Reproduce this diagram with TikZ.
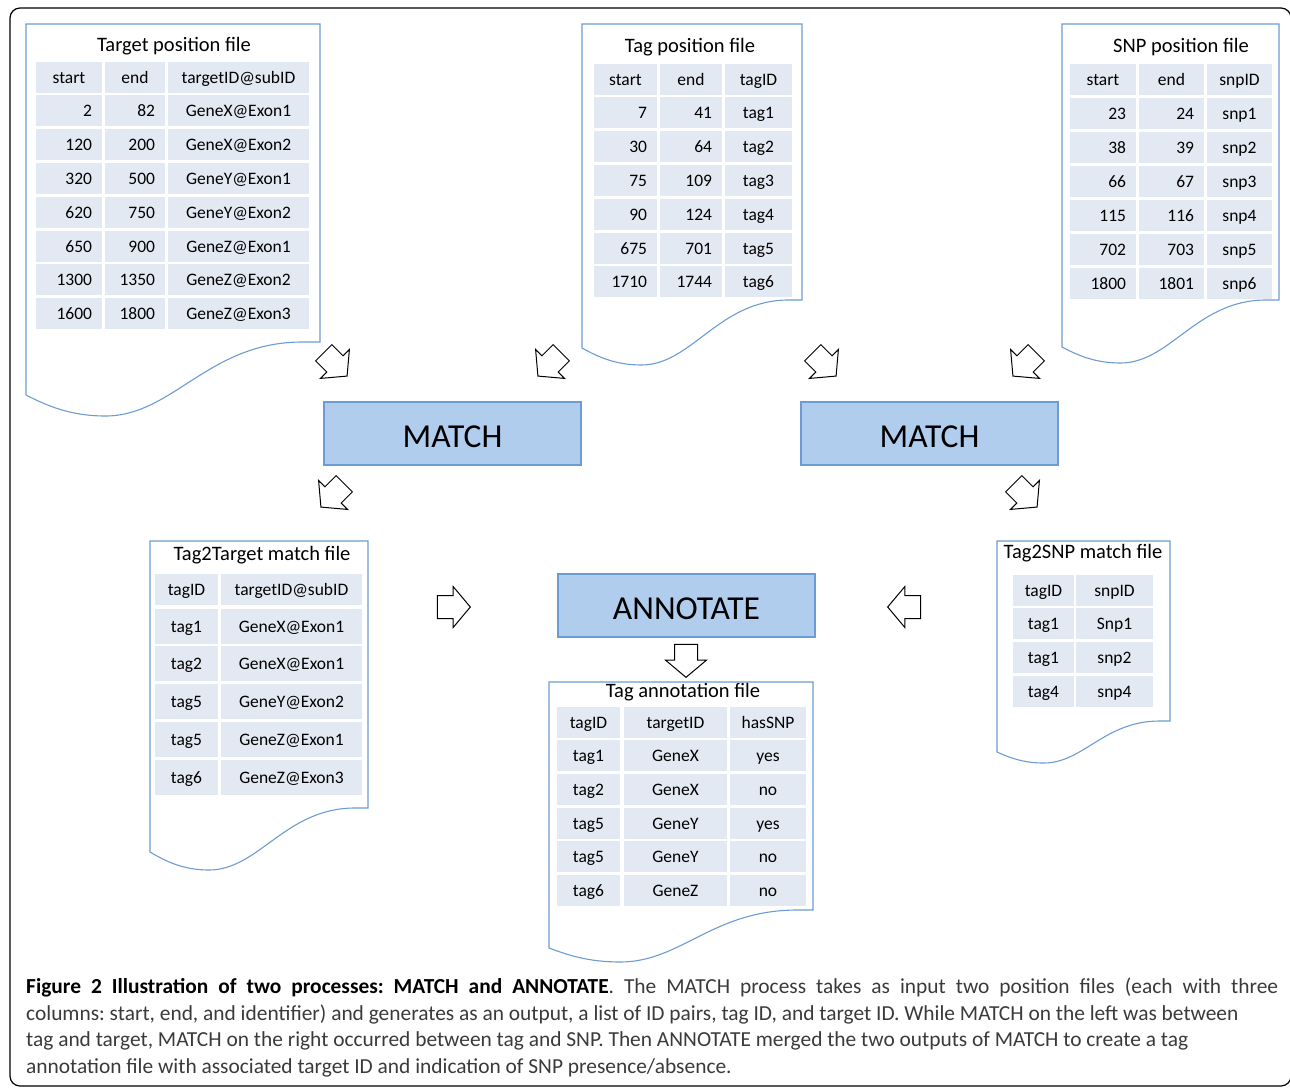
\documentclass[tikz,border=0pt]{standalone}
\usepackage{fontspec}
\setmainfont{Carlito}
\usetikzlibrary{shapes.arrows,positioning}

\definecolor{docline}{HTML}{6D9BD3}
\definecolor{cellfill}{HTML}{E3E9F3}
\definecolor{procfill}{HTML}{B0CDEE}
\definecolor{procline}{HTML}{6D9BD3}
\definecolor{captext}{HTML}{3A3A3A}

\tikzset{
  docborder/.style={draw=docline, line width=1.1pt},
  doctitle/.style={font=\fontsize{20.5}{24}\selectfont, inner sep=0pt},
  cell/.style={fill=cellfill, inner sep=0pt, minimum height=31pt, text height=15pt, text depth=3pt, font=\fontsize{17.5}{20}\selectfont},
  numcell/.style={cell, text width=#1, align=right, inner xsep=10pt},
  process/.style={draw=procline, fill=procfill, line width=1.2pt, minimum width=257pt, minimum height=63pt, text height=28pt, text depth=0pt, font=\fontsize{33.5}{40}\selectfont},
  blockarrow/.style={single arrow, draw=black, fill=white, line width=1pt, inner xsep=0pt, inner ysep=11pt, single arrow head extend=9pt, single arrow tip angle=100, single arrow head indent=0pt, minimum height=33pt},
}

% document outline: x1, x2, top, right bottom, left bottom, lowest point of the wave
\newcommand{\docshape}[6]{%
  \draw[docborder] (#1,#3) -- (#2,#3) -- (#2,#4) -- ({#1+0.94*(#2-#1)},#4)
    .. controls ({#1+0.62*(#2-#1)},#4) and ({#1+0.5*(#2-#1)},#6) .. ({#1+0.27*(#2-#1)},#6)
    .. controls ({#1+0.15*(#2-#1)},#6) and ({#1+0.07*(#2-#1)},{#5+0.5*(#6-#5)}) .. (#1,#5) -- cycle;}

\begin{document}
\begin{tikzpicture}[x=1pt,y=-1pt]
  \useasboundingbox (0,0) rectangle (1290,1087);
  \draw[line width=1.2pt, rounded corners=10pt] (10,8) rectangle (1291,1086);

  % documents
  \docshape{26}{320}{24}{342}{395}{416}
  \docshape{582}{802}{24}{300}{348}{365}
  \docshape{1062}{1279}{24}{300}{347}{363}
  \docshape{150}{368}{541}{808}{852}{870}
  \docshape{997}{1170}{541}{721}{752}{763}
  \docshape{549}{813}{682}{910}{948}{962}

  % target position file
  \node[doctitle] (tgt-title) at (174,46) {Target position file};
  \node[cell, minimum width=66pt] (tgt-h1) at (69,77) {start};
  \node[cell, minimum width=60pt] (tgt-h2) at (135,77) {end};
  \node[cell, minimum width=141pt] (tgt-h3) at (238.5,77) {targetID@subID};
  \foreach \s/\e/\id [count=\i] in {2/82/GeneX@Exon1, 120/200/GeneX@Exon2, 320/500/GeneY@Exon1,
      620/750/GeneY@Exon2, 650/900/GeneZ@Exon1, 1300/1350/GeneZ@Exon2, 1600/1800/GeneZ@Exon3} {
    \node[numcell=46pt] (tgt-\i-1) at (69,{77+33.8*\i}) {\s};
    \node[numcell=40pt] (tgt-\i-2) at (135,{77+33.8*\i}) {\e};
    \node[cell, minimum width=141pt] (tgt-\i-3) at (238.5,{77+33.8*\i}) {\id};
  }

  % tag position file
  \node[doctitle] (tag-title) at (690,47) {Tag position file};
  \node[cell, minimum width=63pt] (tag-h1) at (625.5,79) {start};
  \node[cell, minimum width=62pt] (tag-h2) at (691,79) {end};
  \node[cell, minimum width=67pt] (tag-h3) at (758.5,79) {tagID};
  \foreach \s/\e/\id [count=\i] in {7/41/tag1, 30/64/tag2, 75/109/tag3, 90/124/tag4, 675/701/tag5, 1710/1744/tag6} {
    \node[numcell=43pt] (tag-\i-1) at (625.5,{79+33.8*\i}) {\s};
    \node[numcell=42pt] (tag-\i-2) at (691,{79+33.8*\i}) {\e};
    \node[cell, minimum width=67pt] (tag-\i-3) at (758.5,{79+33.8*\i}) {\id};
  }

  % snp position file
  \node[doctitle] (snp-title) at (1181,47) {SNP position file};
  \node[cell, minimum width=66pt] (snp-h1) at (1103,79) {start};
  \node[cell, minimum width=65pt] (snp-h2) at (1171.5,79) {end};
  \node[cell, minimum width=65pt] (snp-h3) at (1239.5,79) {snpID};
  \foreach \s/\e/\id [count=\i] in {23/24/snp1, 38/39/snp2, 66/67/snp3, 115/116/snp4, 702/703/snp5, 1800/1801/snp6} {
    \node[numcell=46pt] (snp-\i-1) at (1103,{79+34.1*\i}) {\s};
    \node[numcell=45pt] (snp-\i-2) at (1171.5,{79+34.1*\i}) {\e};
    \node[cell, minimum width=65pt] (snp-\i-3) at (1239.5,{79+34.1*\i}) {\id};
  }

  % processes
  \node[process] (match1) at (452.5,433.5) {MATCH};
  \node[process] (match2) at (929.5,433.5) {MATCH};
  \node[process] (annot) at (686.5,605.5) {ANNOTATE};

  % tag2target match file
  \node[doctitle] (t2t-title) at (262,555) {Tag2Target match file};
  \node[cell, minimum width=63pt] (t2t-h1) at (186.5,589) {tagID};
  \node[cell, minimum width=141pt] (t2t-h2) at (291.5,589) {targetID@subID};
  \foreach \t/\id [count=\i] in {tag1/GeneX@Exon1, tag2/GeneX@Exon1, tag5/GeneY@Exon2, tag5/GeneZ@Exon1, tag6/GeneZ@Exon3} {
    \node[cell, minimum height=35pt, minimum width=63pt] (t2t-\i-1) at (186.5,{588.2+37.8*\i}) {\t};
    \node[cell, minimum height=35pt, minimum width=141pt] (t2t-\i-2) at (291.5,{588.2+37.8*\i}) {\id};
  }

  % tag2snp match file
  \node[doctitle] (t2s-title) at (1083,553) {Tag2SNP match file};
  \node[cell, minimum width=61pt] (t2s-h1) at (1043.5,590) {tagID};
  \node[cell, minimum width=77pt] (t2s-h2) at (1114.5,590) {snpID};
  \foreach \t/\id [count=\i] in {tag1/Snp1, tag1/snp2, tag4/snp4} {
    \node[cell, minimum width=61pt] (t2s-\i-1) at (1043.5,{590+33.7*\i}) {\t};
    \node[cell, minimum width=77pt] (t2s-\i-2) at (1114.5,{590+33.7*\i}) {\id};
  }

  % tag annotation file
  \node[doctitle] (ann-title) at (683,692) {Tag annotation file};
  \node[cell, minimum width=63pt] (ann-h1) at (588.5,722) {tagID};
  \node[cell, minimum width=103pt] (ann-h2) at (675.5,722) {targetID};
  \node[cell, minimum width=76pt] (ann-h3) at (768,722) {hasSNP};
  \foreach \t/\id/\h [count=\i] in {tag1/GeneX/yes, tag2/GeneX/no, tag5/GeneY/yes, tag5/GeneY/no, tag6/GeneZ/no} {
    \node[cell, minimum width=63pt] (ann-\i-1) at (588.5,{722+33.7*\i}) {\t};
    \node[cell, minimum width=103pt] (ann-\i-2) at (675.5,{722+33.7*\i}) {\id};
    \node[cell, minimum width=76pt] (ann-\i-3) at (768,{722+33.7*\i}) {\h};
  }

  % block arrows
  \node[blockarrow, rotate=-45] (arr-tgt) at (332,361) {};
  \node[blockarrow, rotate=-135] (arr-tag1) at (553,361) {};
  \node[blockarrow, rotate=-45] (arr-tag2) at (821,361) {};
  \node[blockarrow, rotate=-135] (arr-snp) at (1028,361) {};
  \node[blockarrow, rotate=-135] (arr-m1) at (336,492) {};
  \node[blockarrow, rotate=-45] (arr-m2) at (1022,492) {};
  \node[blockarrow] (arr-t2t) at (449,607) {};
  \node[blockarrow, rotate=180] (arr-t2s) at (909,607) {};
  \node[blockarrow, rotate=-90] (arr-ann) at (686,656) {};

  % caption
  \node[anchor=north west, inner sep=0pt, align=left, text=captext,
        font=\fontsize{21.4}{26.4}\selectfont\frenchspacing] (caption) at (26,978)
    {\makebox[1252pt][s]{\textcolor{black}{\textbf{Figure 2 Illustration of two processes: MATCH and ANNOTATE}}. The MATCH process takes as input two position files (each with three}\\
     columns: start, end, and identifier) and generates as an output, a list of ID pairs, tag ID, and target ID. While MATCH on the left was between\\
     tag and target, MATCH on the right occurred between tag and SNP. Then ANNOTATE merged the two outputs of MATCH to create a tag\\
     annotation file with associated target ID and indication of SNP presence/absence.};
\end{tikzpicture}
\end{document}
